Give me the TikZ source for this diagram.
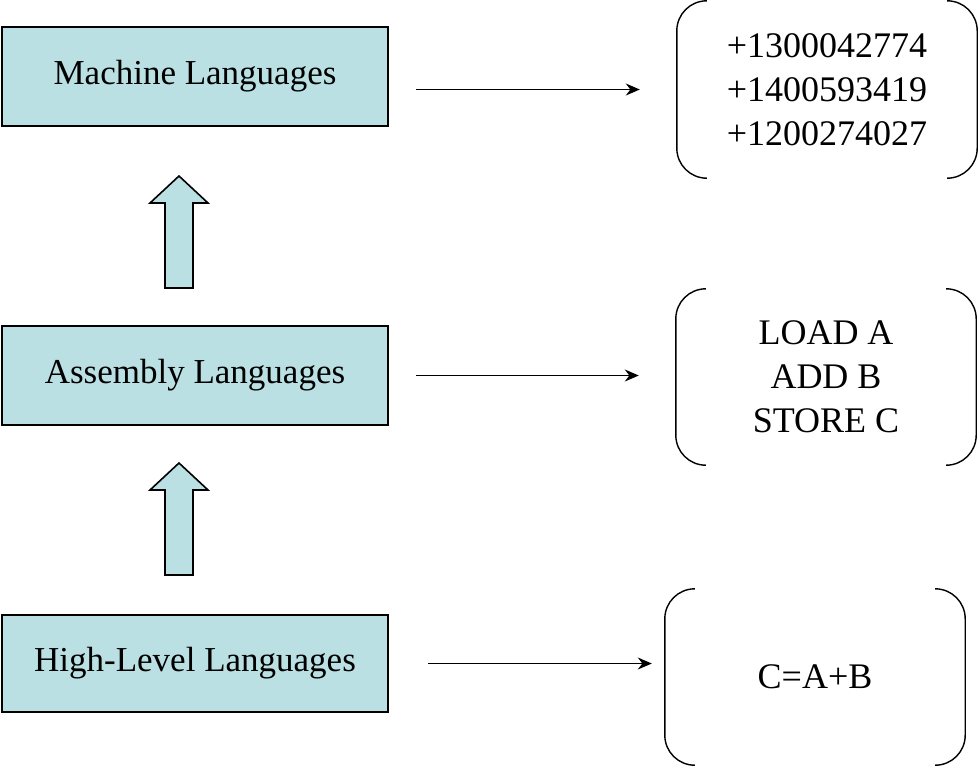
\documentclass[tikz,border=0pt]{standalone}
\usepackage{fontspec}
\setmainfont{Liberation Serif}
\usetikzlibrary{arrows.meta}
\definecolor{boxcyan}{HTML}{BAE0E3}
\tikzset{
 langbox/.style={draw,line width=2pt,fill=boxcyan,minimum width=386pt,minimum height=99pt,inner sep=0pt,font=\fontsize{35}{40}\selectfont},
 codebox/.style={minimum width=300pt,minimum height=177pt,inner sep=0pt,align=center,font=\fontsize{36}{44}\selectfont},
 bracket/.style={line width=1.4pt,rounded corners=30pt},
 uparrow/.style={draw,line width=1.6pt,fill=boxcyan},
 codearrow/.style={-{Stealth[length=14pt,width=12pt]},line width=1.5pt}
}
\begin{document}
\begin{tikzpicture}[x=1pt,y=-1pt]
 \useasboundingbox (0,0) rectangle (979,766);
 \node[langbox] (ml) at (195,76) {Machine Languages}; %機械語
 \node[langbox] (al) at (195,375.5) {Assembly Languages}; %アセンブリ
 \node[langbox,minimum height=97pt] (hl) at (195,663.5) {High-Level Languages}; %高水準
 \node[codebox] (mc) at (827,89.5) {+1300042774\\+1400593419\\+1200274027};
 \node[codebox,minimum height=176pt] (ac) at (826,377) {LOAD A\\ADD B\\STORE C};
 \node[codebox,minimum height=176pt] (hc) at (815,677) {C=A+B};
 \foreach \n in {mc,ac,hc}{ %括弧
  \draw[bracket] ([xshift=30pt]\n.north west)--(\n.north west)--(\n.south west)--([xshift=30pt]\n.south west);
  \draw[bracket] ([xshift=-30pt]\n.north east)--(\n.north east)--(\n.south east)--([xshift=-30pt]\n.south east);
 }
 \foreach \y in {176,463} %上向き矢印
  \draw[uparrow] (179,\y)--(208,\y+27)--(193,\y+27)--(193,\y+112)--(165,\y+112)--(165,\y+27)--(150,\y+27)--cycle;
 \draw[codearrow,shorten <=27pt,shorten >=37pt] (ml.east |- mc.west)--(mc.west);
 \draw[codearrow,shorten <=27pt,shorten >=37pt] (al.east)--(al.east -| ac.west);
 \draw[codearrow,shorten <=39pt,shorten >=13pt] (hl.east)--(hl.east -| hc.west);
\end{tikzpicture}
\end{document}
